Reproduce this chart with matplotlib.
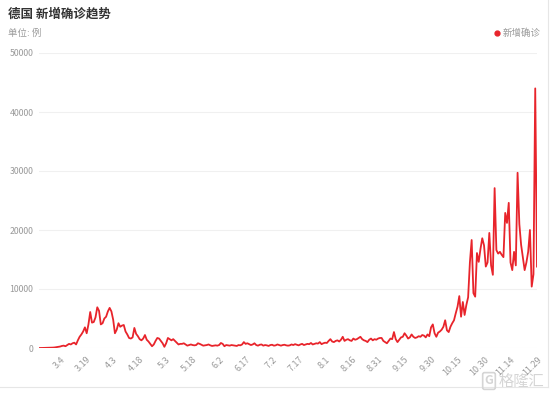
import numpy as np
import matplotlib
matplotlib.use("Agg")
import matplotlib.pyplot as plt
from matplotlib.lines import Line2D

plt.rcParams["font.family"] = ["Noto Sans CJK SC", "DejaVu Sans"]

# ----------------------------
# Data: daily new cases, 2.21 -> 11.29
# ----------------------------
new_cases = [
    0, 0, 10, 20, 30, 40, 50, 60, 70, 100,
    150, 200, 250, 350, 400, 300, 500, 700, 600, 800,
    900, 600, 1300, 1900, 2300, 2800, 3500, 2500, 4000, 6100,
    4300, 4400, 5200, 6900, 6300, 4000, 4200, 5000, 5300, 6200,
    6800, 6200, 4800, 2500, 3100, 4200, 3600, 3800, 3900, 2800,
    2300, 1700, 1600, 1800, 3400, 2400, 2000, 1500, 1300, 1600, 2200,
    1400, 1100, 700, 300, 600, 1200, 1700, 1600, 1200, 800,
    200, 800, 1700, 1500, 1300, 1500, 1200, 900, 600, 700,
    700, 800, 600, 400, 500, 600, 500, 450, 500, 800,
    700, 550, 400, 450, 500, 600, 450, 350, 400, 450,
    400, 500, 850, 700, 300, 500, 450, 400, 500, 450,
    400, 350, 500, 450, 600, 1000, 700, 800, 650, 500,
    600, 800, 500, 400, 550, 600, 400, 500, 450, 350,
    500, 550, 400, 450, 600, 500, 400, 500, 550, 450,
    400, 450, 600, 500, 650, 550, 450, 600, 700, 500, 600,
    700, 650, 850, 600, 700, 800, 750, 1000, 650, 800,
    900, 850, 1200, 1500, 1100, 1000, 1200, 1300, 1100, 1400,
    1900, 1200, 1400, 1500, 1300, 1200, 1600, 1400, 1500, 1700,
    1900, 1500, 1300, 1200, 1000, 1400, 1600, 1300, 1500, 1400,
    1600, 1700, 1700, 1200, 1000, 800, 1200, 1600, 1500, 2700,
    1500, 1000, 1400, 1800, 1900, 2500, 2100, 1600, 1800, 2300,
    1900, 1700, 1800, 2000, 1900, 2200, 2100, 1800, 2300, 2000,
    3500, 4000, 2500, 1900, 2600, 2800, 3100, 3600, 4700, 3000, 2700,
    3600, 4200, 4700, 5900, 7000, 8800, 5300, 7800, 5600, 7300,
    8600, 14500, 18300, 9300, 8700, 16100, 14600, 16800, 18600, 17400,
    13800, 14500, 19500, 14000, 12400, 27100, 16600, 16000, 16300, 15800,
    15400, 22900, 21200, 24600, 14500, 13200, 16300, 14000, 29700, 21000,
    17500, 15400, 13200, 14500, 16300, 20000, 10400, 12500, 44000, 13800,
]

tick_labels = ["3.4", "3.19", "4.3", "4.18", "5.3", "5.18", "6.2", "6.17", "7.2",
               "7.17", "8.1", "8.16", "8.31", "9.15", "9.30", "10.15", "10.30",
               "11.14", "11.29"]
tick_pos = [12 + 15 * k for k in range(len(tick_labels))]
y_ticks = [0, 10000, 20000, 30000, 40000, 50000]

red = "#e8242b"
gray = "#9a9a9a"

# ----------------------------
# Plot
# ----------------------------
fig = plt.figure(figsize=(5.54, 3.95), dpi=100)
ax = fig.add_axes([39 / 554, 47 / 395, 498 / 554, 295 / 395])

x = np.arange(len(new_cases))
ax.plot(x, new_cases, color=red, linewidth=1.3, solid_joinstyle="round")

ax.set_xlim(0, len(new_cases) - 1)
ax.set_ylim(0, 50000)
ax.set_yticks(y_ticks)
ax.set_yticklabels([str(v) for v in y_ticks], fontsize=6.3, color=gray)
ax.set_xticks(tick_pos)
ax.set_xticklabels(tick_labels, fontsize=6.5, color=gray, rotation=45,
                   ha="right", va="top", rotation_mode="anchor")
ax.tick_params(axis="y", length=0, pad=4)
ax.tick_params(axis="x", length=0, pad=5)

ax.grid(axis="y", color="#f0f0f0", linewidth=0.8)
ax.set_axisbelow(True)
for s in ax.spines.values():
    s.set_visible(False)

# Titles
fig.text(8 / 554, 1 - 14 / 395, "德国 新增确诊趋势", fontsize=9, fontweight="bold",
         color="#333333", va="center", ha="left")
fig.text(8 / 554, 1 - 33 / 395, "单位: 例", fontsize=6.8, color=gray,
         va="center", ha="left")

# Legend
fig.add_artist(Line2D([497 / 554], [1 - 33 / 395], marker="o", markersize=3.5,
                      color=red, linestyle="none"))
fig.text(503 / 554, 1 - 33 / 395, "新增确诊", fontsize=6.8, color=gray,
         va="center", ha="left")

# Container border (right and bottom)
fig.add_artist(Line2D([0, 548 / 554], [1 - 387 / 395] * 2, color="#e6e6e6", linewidth=0.8))
fig.add_artist(Line2D([548 / 554] * 2, [1 - 387 / 395, 1], color="#e6e6e6", linewidth=0.8))

# Watermark
fig.text(489 / 554, 1 - 381 / 395, "G", fontsize=9, color="#d5d5d5", fontweight="bold",
         va="center", ha="center",
         bbox=dict(boxstyle="round,pad=0.15", fc="none", ec="#d5d5d5", lw=1.2))
fig.text(499 / 554, 1 - 381 / 395, "格隆汇", fontsize=11, color="#d5d5d5",
         va="center", ha="left")

fig.savefig("out.png", dpi=100)
